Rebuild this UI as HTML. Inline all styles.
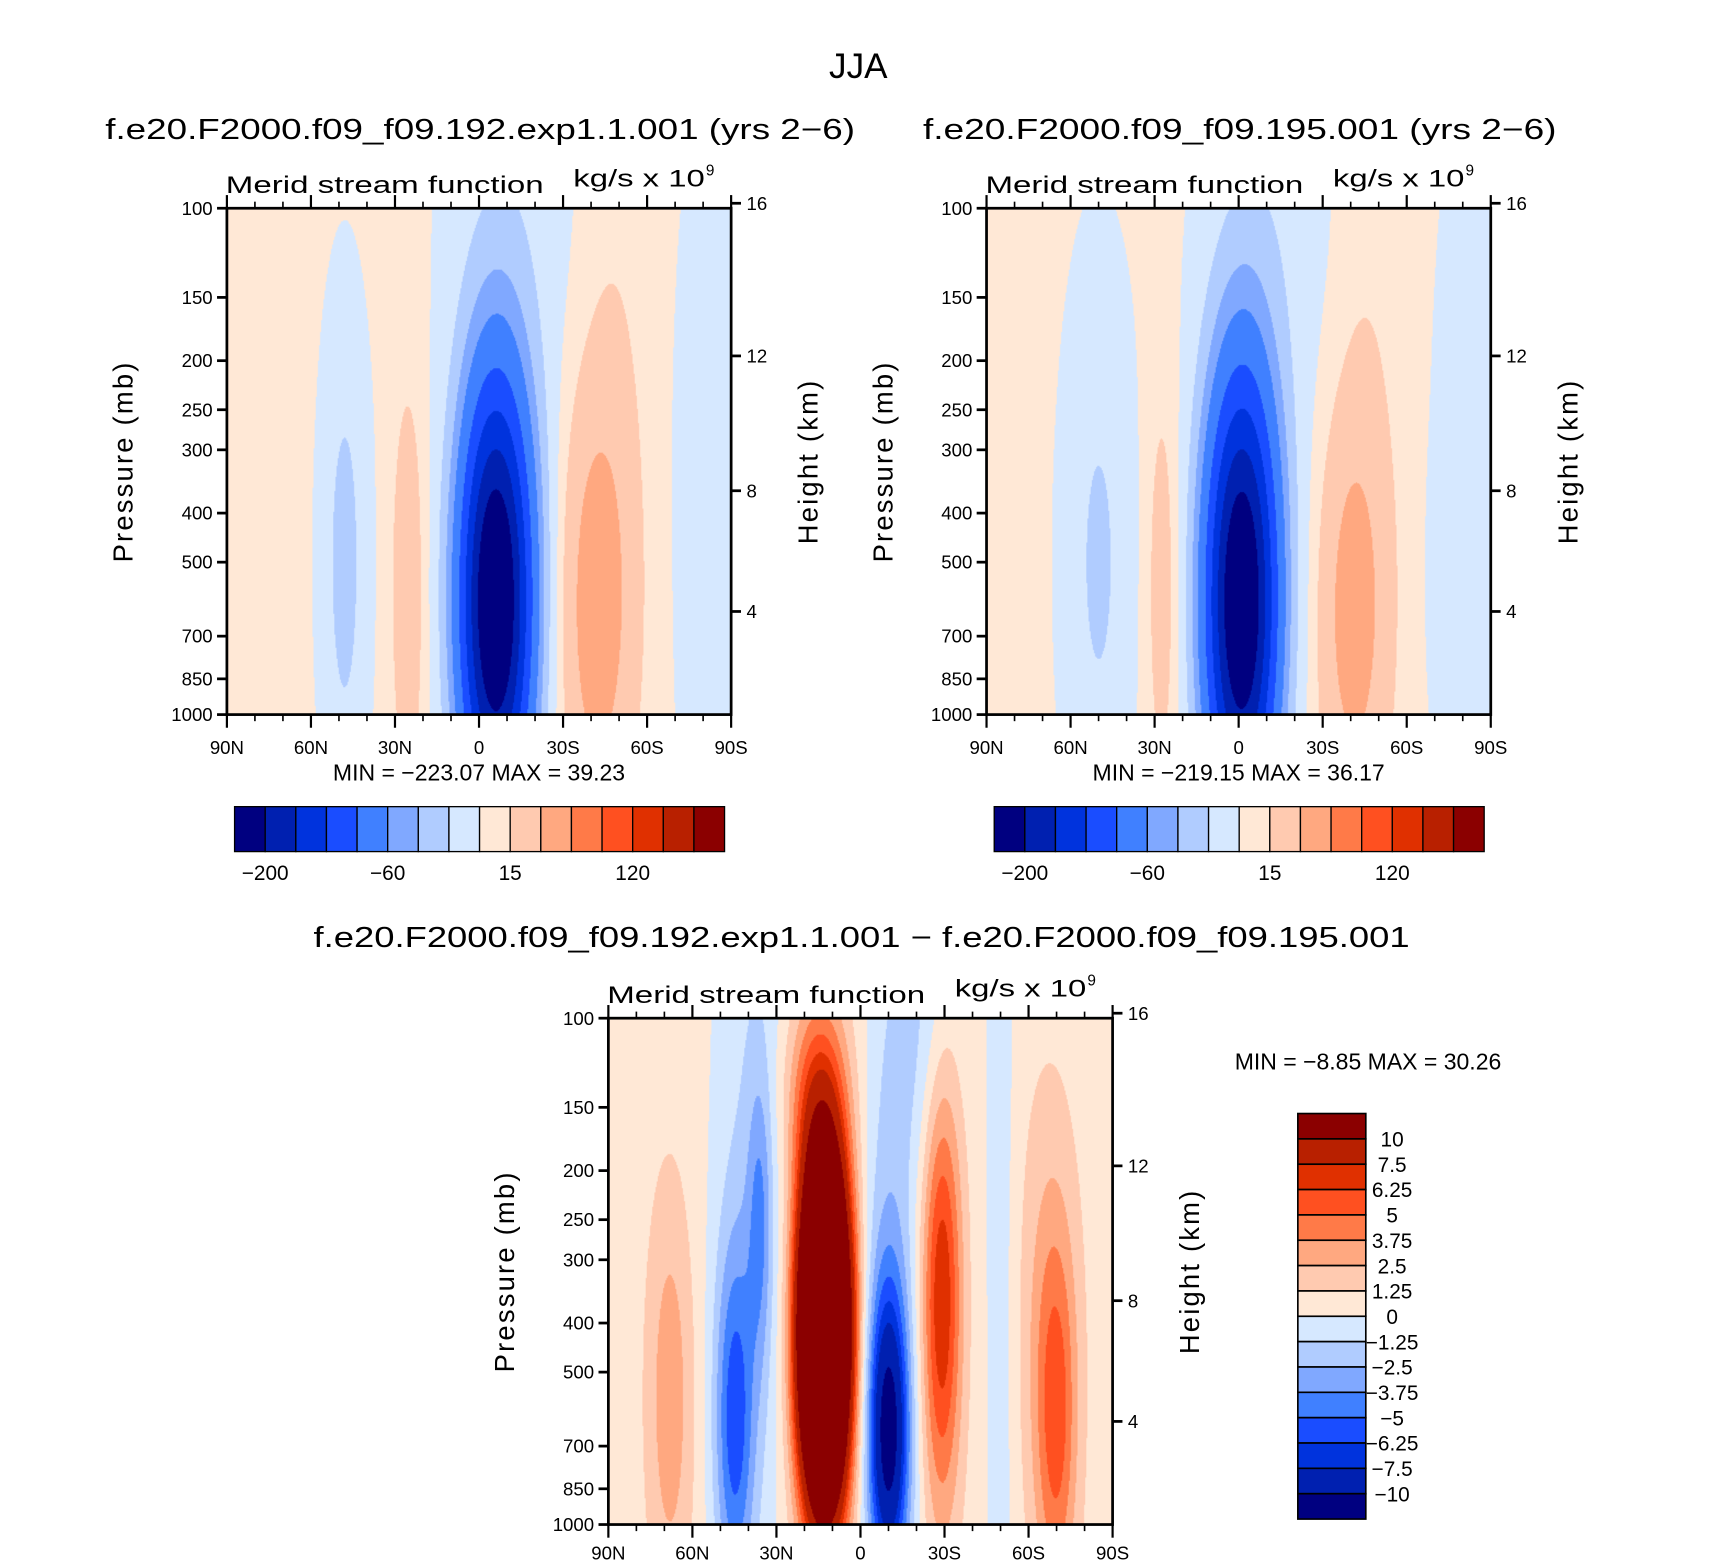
<!DOCTYPE html>
<html><head><meta charset="utf-8"><style>
html,body{margin:0;padding:0;background:#fff;}
#root{position:absolute;left:0;top:0;width:1560px;height:1427px;transform:scale(1.09615,1.09600);transform-origin:0 0;font-family:"Liberation Sans",sans-serif;}
canvas{position:absolute;}
svg{position:absolute;left:0;top:0;}
</style></head><body>
<div id="root">
<canvas id="c1" width="460" height="462" style="left:207px;top:190px"></canvas>
<canvas id="c2" width="460" height="462" style="left:900px;top:190px"></canvas>
<canvas id="c3" width="460" height="462" style="left:555px;top:929px"></canvas>
<svg id="ov" width="1560" height="1427"></svg>
</div>
<script>
// ---- data ----
const latTicks = ["90N","60N","30N","0","30S","60S","90S"];
const pTicks = [100,150,200,250,300,400,500,700,850,1000];
const zTicks = [4,8,12,16];
const colors = ["#000080","#0020b0","#0033dd","#1a4dff","#4080ff","#80a8ff","#b0ccff","#d6e8ff","#ffe8d6","#ffcab0","#ffa880","#ff7a48","#ff5020","#e03000","#b82000","#8b0000"];
const levelsAbs = [-200,-165,-130,-95,-60,-40,-20,0,15,40,65,90,120,160,200];
const levelsDiff = [-10,-7.5,-6.25,-5,-3.75,-2.5,-1.25,0,1.25,2.5,3.75,5,6.25,7.5,10];
const labelsAbs = ["-200","-60","15","120"];
const labelsDiff = ["10","7.5","6.25","5","3.75","2.5","1.25","0","-1.25","-2.5","-3.75","-5","-6.25","-7.5","-10"];
// panel 1 blobs (lat deg N, log10 p, amplitude 1e9 kg/s, sigma lat, sigma logp)
const p1Lat  = [-6, -12, -42, 25, 48, -82, -48];
const p1LogP = [2.78, 2.0, 2.78, 2.75, 2.7, 2.6, 2.3];
const p1Amp  = [-255, -16, 50, 24, -32, -14, 8];
const p1SLat = [9.5, 18, 9, 4.5, 6, 10, 9];
const p1SLogP= [0.32, 0.4, 0.3, 0.3, 0.35, 0.6, 0.5];
const p1Base = 5;
// panel 2 blobs
const p2Lat  = [-1, -12, -41, 27, 50, -82, -70, -45];
const p2LogP = [2.78, 2.0, 2.8, 2.75, 2.7, 2.6, 2.75, 2.3];
const p2Amp  = [-250, -16, 46, 22, -28, -14, -8, 8];
const p2SLat = [9.5, 18, 8.5, 4.5, 9, 10, 2, 9];
const p2SLogP= [0.33, 0.4, 0.28, 0.3, 0.4, 0.6, 0.15, 0.5];
const p2Base = 5;
// difference blobs
const p3Lat  = [13, 16, -10, -10, -29, 45, 36, 38, 68, -70, -67, -22, -50];
const p3LogP = [2.62, 2.15, 2.82, 2.6, 2.55, 2.8, 2.4, 2.3, 2.75, 2.8, 2.6, 2.0, 2.5];
const p3Amp  = [36, 4, -10, -2.5, 7, -5.5, -3, -1.8, 2.8, 4, 2, -1.8, -1.2];
const p3SLat = [6.2, 8, 5, 7, 5, 5, 3, 10, 6, 5, 8, 8, 4];
const p3SLogP= [0.24, 0.15, 0.2, 0.5, 0.3, 0.25, 0.2, 0.6, 0.3, 0.25, 0.35, 0.25, 1];
const p3Base = 0.5;

function fieldAt(lat, lp, L, P, A, SL, SP, base){
  let v = base;
  for(let i=0;i<L.length;i++){
    const a=(lat-L[i])/SL[i], b=(lp-P[i])/SP[i];
    v += A[i]*Math.exp(-0.5*(a*a+b*b));
  }
  return v;
}
function colorIdx(v, lev){ let k=0; while(k<lev.length && v>=lev[k]) k++; return k; }
function hex2rgb(h){return [parseInt(h.substr(1,2),16),parseInt(h.substr(3,2),16),parseInt(h.substr(5,2),16)];}
const rgb = colors.map(hex2rgb);
function drawField(id, L,P,A,SL,SP,base,lev){
  const c=document.getElementById(id), ctx=c.getContext('2d');
  const W=c.width,H=c.height, img=ctx.createImageData(W,H);
  for(let y=0;y<H;y++){
    const lp = 2 + (y+0.5)/H;
    for(let x=0;x<W;x++){
      const lat = 90 - 180*(x+0.5)/W;
      const k = colorIdx(fieldAt(lat,lp,L,P,A,SL,SP,base),lev);
      const o=(y*W+x)*4, col=rgb[k];
      img.data[o]=col[0];img.data[o+1]=col[1];img.data[o+2]=col[2];img.data[o+3]=255;
    }
  }
  ctx.putImageData(img,0,0);
}
drawField('c1',p1Lat,p1LogP,p1Amp,p1SLat,p1SLogP,p1Base,levelsAbs);
drawField('c2',p2Lat,p2LogP,p2Amp,p2SLat,p2SLogP,p2Base,levelsAbs);
drawField('c3',p3Lat,p3LogP,p3Amp,p3SLat,p3SLogP,p3Base,levelsDiff);

// ---- overlay ----
const NS="http://www.w3.org/2000/svg", ov=document.getElementById('ov');
function el(tag, attrs, parent){ const e=document.createElementNS(NS,tag); for(const k in attrs) e.setAttribute(k,attrs[k]); (parent||ov).appendChild(e); return e; }
function txt(s,x,y,size,anchor,parent,extra){ const t=el('text',Object.assign({x:x,y:y,'font-size':size,'text-anchor':anchor||'middle','font-family':'Liberation Sans, sans-serif',fill:'#000'},extra||{}),parent); t.textContent=s; return t; }
const W=460,H=462;
function yOfP(p){ return H*(Math.log10(p)-2); }
function pOfZ(z){ return 1013.25*Math.pow(1-2.2558e-5*z*1000,5.256); }

function axes(x0,y0,name,minmax,lblOff){
  const g=el('g',{transform:`translate(${x0},${y0})`});
  
  
  el('rect',{x:0,y:0,width:W,height:H,fill:'none',stroke:'#000','stroke-width':2.5},g);
  for(let k=0;k<=18;k++){
    const x=k*W/18, major=(k%3===0);
    const len=major?12:6;
    el('line',{x1:x,y1:H,x2:x,y2:H+len,stroke:'#000','stroke-width':major?2:1.5},g);
    el('line',{x1:x,y1:0,x2:x,y2:-len,stroke:'#000','stroke-width':major?2:1.5},g);
  }
  latTicks.forEach((s,i)=>{ const t=txt(s,i*W/6,H+lblOff,17,'middle',g);
    
     });
  pTicks.forEach(p=>{ const y=yOfP(p);
    el('line',{x1:-9,y1:y,x2:0,y2:y,stroke:'#000','stroke-width':2.5},g);
    const t=txt(String(p),-13,y+6,17,'end',g);
    
     });
  zTicks.forEach(z=>{ const y=yOfP(pOfZ(z))+3;
    el('line',{x1:W,y1:y,x2:W+9,y2:y,stroke:'#000','stroke-width':2.5},g);
    const t=txt(String(z),W+14,y+6,17,'start',g);
    
     });
  const yl=txt('Pressure  (mb)',0,0,25,'middle',g,{transform:`translate(-86,${H/2}) rotate(-90)`,'letter-spacing':'2','xml:space':'preserve'});
  
  
  const yr=txt('Height  (km)',0,0,25,'middle',g,{transform:`translate(${W+79},${H/2}) rotate(-90)`,'letter-spacing':'2','xml:space':'preserve'});
  
  
  const h=txt('Merid  stream  function',-1,-14,22,'start',g,{textLength:290,lengthAdjust:'spacingAndGlyphs','xml:space':'preserve'});
  
  
  const u=txt('kg/s  x  10',316,-20,22,'start',g,{textLength:120,lengthAdjust:'spacingAndGlyphs','xml:space':'preserve'});
  
  
  txt('9',437,-30,14,'start',g);
  if(minmax){ const m=txt(minmax,W/2,H+60,21,'middle',g,{'xml:space':'preserve'});
    
     }
}
axes(207,190,'panel-192','MIN =  −223.07   MAX =   39.23',36);
axes(900,190,'panel-195','MIN =  −219.15   MAX =   36.17',36);
axes(555,929,'panel-diff',null,32);

function hbar(x0,y0,name){
  const g=el('g',{transform:`translate(${x0},${y0})`});
  
  
  const bw=447/16;
  colors.forEach((c,i)=>{ const r=el('rect',{x:i*bw,y:0,width:bw,height:41,fill:c,stroke:'#000','stroke-width':1.2},g);
    
     });
  labelsAbs.forEach((s,i)=>{ const t=txt(s.replace('-','−'),(1+4*i)*bw,67,19,'middle',g);
    
     });
}
hbar(214,736,'colorbar-192');
hbar(907,736,'colorbar-195');
(function(){
  const g=el('g',{transform:'translate(1184,1016)'});
  
  
  const bh=370/16;
  colors.slice().reverse().forEach((c,i)=>{ const r=el('rect',{x:0,y:i*bh,width:62,height:bh,fill:c,stroke:'#000','stroke-width':1.5},g);
    
     });
  labelsDiff.forEach((s,i)=>{ const t=txt(s.replace('-','−'),86,(i+1)*bh+7,19,'middle',g);
    
     });
})();
let t;
t=txt('JJA',783,71,32,'middle');  
t=txt('f.e20.F2000.f09_f09.192.exp1.1.001  (yrs  2−6)',438,127,26,'middle',null,{textLength:684,lengthAdjust:'spacingAndGlyphs','xml:space':'preserve'});  
t=txt('f.e20.F2000.f09_f09.195.001  (yrs  2−6)',1131,127,26,'middle',null,{textLength:578,lengthAdjust:'spacingAndGlyphs','xml:space':'preserve'});  
t=txt('f.e20.F2000.f09_f09.192.exp1.1.001  −  f.e20.F2000.f09_f09.195.001',786,864,26,'middle',null,{textLength:1000,lengthAdjust:'spacingAndGlyphs','xml:space':'preserve'});  
t=txt('MIN =    −8.85   MAX =    30.26',1248,976,21,'middle',null,{'xml:space':'preserve'});  
</script>
</body></html>
